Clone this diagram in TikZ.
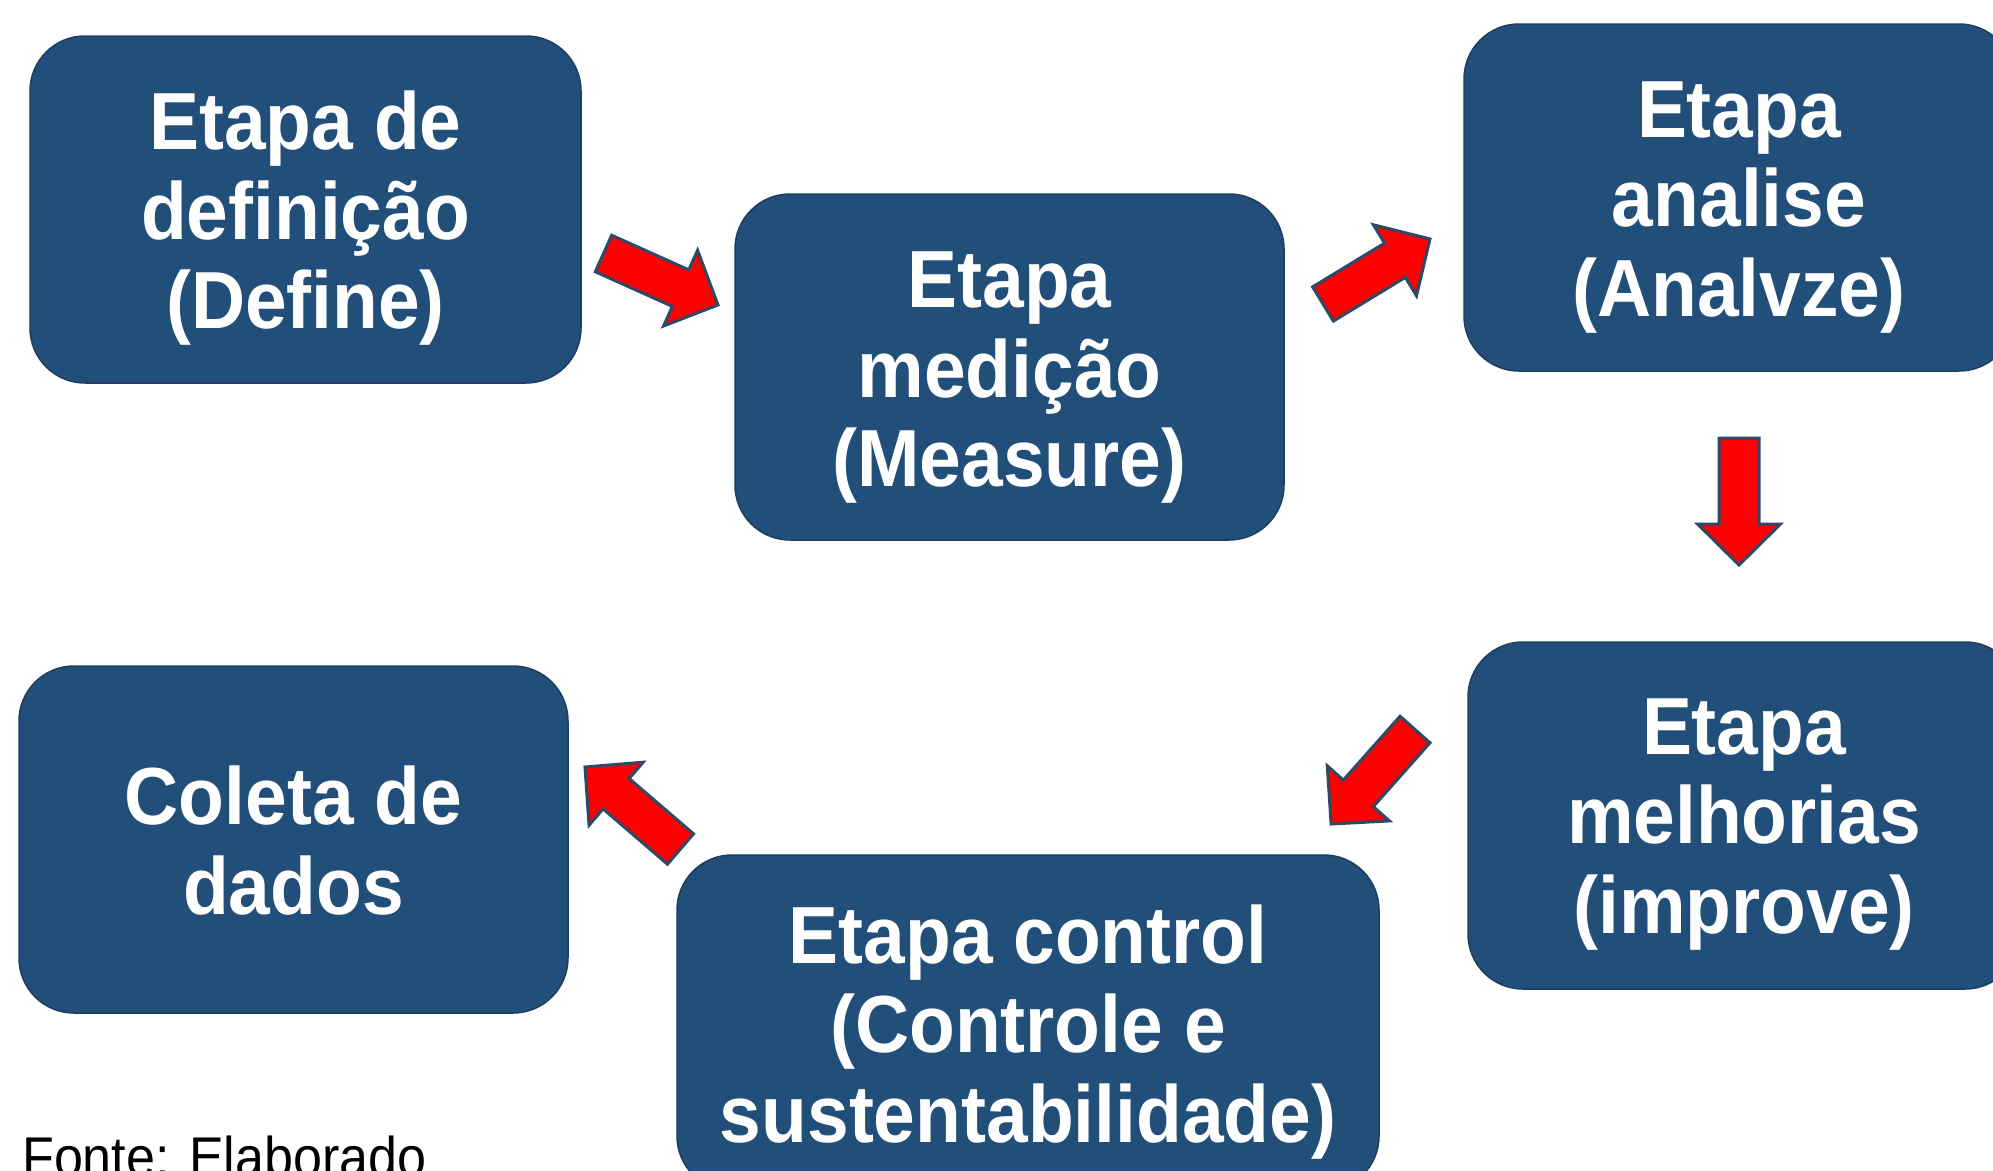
\documentclass[tikz,border=0pt]{standalone}
\usepackage{fontspec}
\setmainfont{Liberation Sans}
\newfontfamily\boxfont[FakeStretch=0.925]{Liberation Sans}
\newfontfamily\notefont[FakeStretch=0.93]{Liberation Sans}
\definecolor{boxblue}{RGB}{33,79,122}
\definecolor{boxedge}{RGB}{28,62,96}
\definecolor{arrred}{RGB}{255,0,0}
\definecolor{arredge}{RGB}{46,72,102}
\tikzset{
  stagebox/.style={draw=boxedge, line width=1.5pt, fill=boxblue, rounded corners=55pt, inner sep=0pt},
  stagetext/.style={text=white, align=center, inner sep=0pt,
    font=\boxfont\bfseries\fontsize{81}{89.5}\selectfont},
  barrow/.style={draw=arredge, line width=3pt, fill=arrred, line join=miter},
}
\newcommand{\blockarr}[3]{%
  \draw[barrow, shift={(#1)}, rotate=#2]
    (0,-20) -- ({#3-41},-20) -- ({#3-41},-41.5) -- (#3,0) -- ({#3-41},41.5) -- ({#3-41},20) -- (0,20) -- cycle;}
\begin{document}
\begin{tikzpicture}[x=1pt,y=-1pt]
\useasboundingbox (0,0) rectangle (1993,1170);
\clip (0,0) rectangle (1993,1170);
\fill[white] (0,0) rectangle (1993,1170);

\node[stagebox, minimum width=551pt, minimum height=347pt] (define) at (305.5,209.5) {};
\node[stagebox, minimum width=549pt, minimum height=346pt] (measure) at (1009.5,367) {};
\node[stagebox, minimum width=550pt, minimum height=347pt] (analyze) at (1739,197.5) {};
\node[stagebox, minimum width=552pt, minimum height=347pt] (improve) at (1744,815.5) {};
\node[stagebox, minimum width=702pt, minimum height=336pt] (control) at (1028,1023) {};
\node[stagebox, minimum width=549pt, minimum height=347pt] (coleta) at (293.5,839.5) {};

\node[stagetext] (define-t) at ([yshift=-9pt]define.center) {Etapa de\\definição\\(Define)};
\node[stagetext] (measure-t) at ([yshift=-11pt]measure.center) {Etapa\\medição\\(Measure)};
\node[stagetext] (analyze-t) at ([yshift=-10pt]analyze.center) {Etapa\\analise\\(Analvze)};
\node[stagetext] (improve-t) at ([yshift=-9pt]improve.center) {Etapa\\melhorias\\(improve)};
\node[stagetext] (control-t) at ([yshift=-9pt]control.center) {Etapa control\\(Controle e\\sustentabilidade)};
\node[stagetext] (coleta-t) at ([yshift=-1pt]coleta.center) {Coleta de\\dados};

\node[anchor=base west, inner sep=0pt, font=\notefont\fontsize{56}{60}\selectfont] (fonte) at (22,1176) {Fonte: Elaborado};

\blockarr{603.5,253.5}{-24.2}{125.5}
\blockarr{1323,304}{31.3}{125.2}
\blockarr{1739,438}{-90}{127}
\blockarr{1415,729.5}{-131.6}{126.4}
\blockarr{680.5,849}{139.35}{125.9}
\end{tikzpicture}
\end{document}
